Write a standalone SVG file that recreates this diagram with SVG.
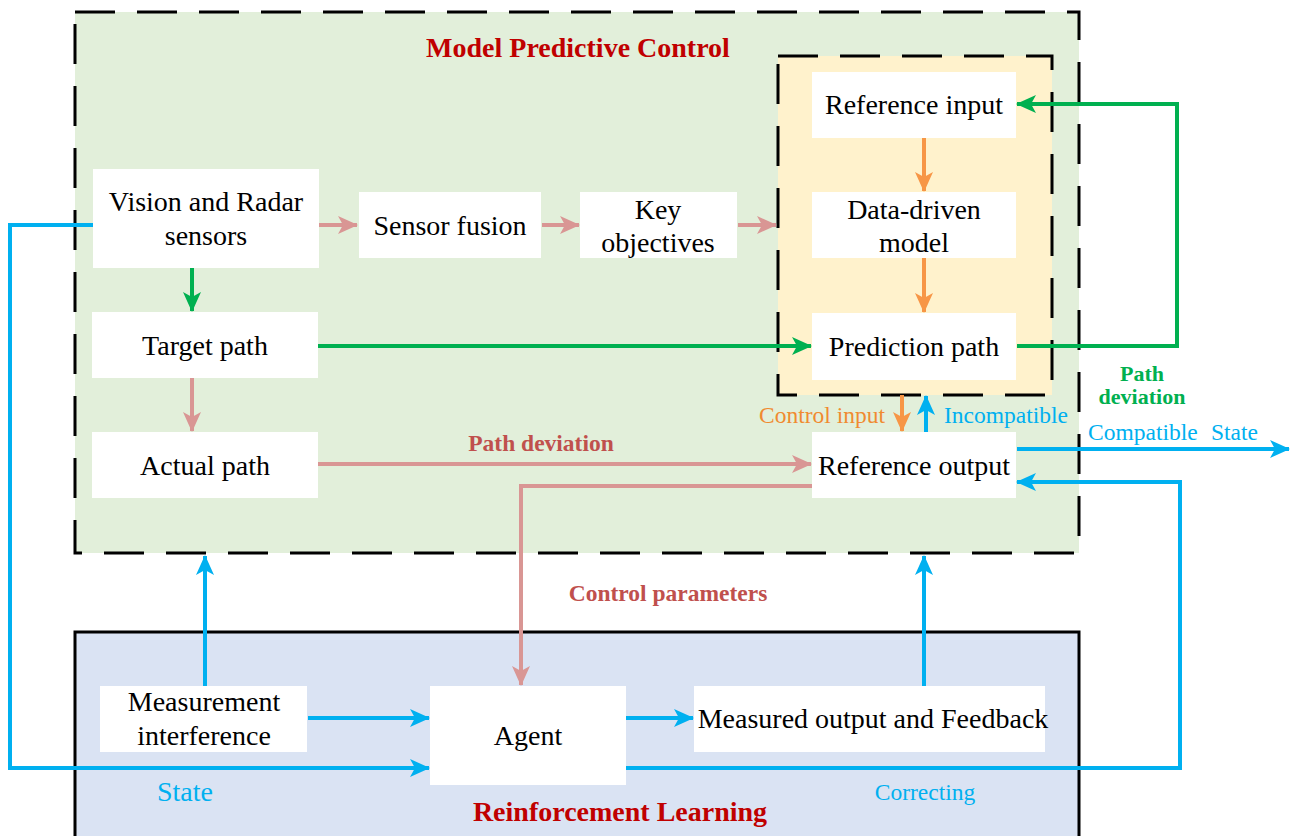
<svg xmlns="http://www.w3.org/2000/svg" width="1290" height="836" viewBox="0 0 1290 836">
  <defs>
    <marker id="ah-pink" viewBox="0 0 20 18" refX="19" refY="9" markerWidth="20" markerHeight="18" markerUnits="userSpaceOnUse" orient="auto"><path d="M0,0 L20,9 L0,18 L5,9 Z" fill="#D99694"/></marker>
    <marker id="ah-green" viewBox="0 0 20 18" refX="19" refY="9" markerWidth="20" markerHeight="18" markerUnits="userSpaceOnUse" orient="auto"><path d="M0,0 L20,9 L0,18 L5,9 Z" fill="#00B050"/></marker>
    <marker id="ah-orange" viewBox="0 0 20 18" refX="19" refY="9" markerWidth="20" markerHeight="18" markerUnits="userSpaceOnUse" orient="auto"><path d="M0,0 L20,9 L0,18 L5,9 Z" fill="#F79646"/></marker>
    <marker id="ah-blue" viewBox="0 0 20 18" refX="19" refY="9" markerWidth="20" markerHeight="18" markerUnits="userSpaceOnUse" orient="auto"><path d="M0,0 L20,9 L0,18 L5,9 Z" fill="#00B0F0"/></marker>
  </defs>
  <style>
    .node { fill: #FFFFFF; }
    .nt { font-family: "Liberation Serif", "Times New Roman", serif; font-size: 28px; fill: #000; text-anchor: middle; }
    .title { font-family: "Liberation Serif", "Times New Roman", serif; font-size: 28px; font-weight: bold; fill: #C00000; text-anchor: middle; }
    .lbl { font-family: "Liberation Serif", "Times New Roman", serif; font-size: 23.5px; }
    .big { font-size: 28px; }
    .small { font-size: 22px; }
    .bold { font-weight: bold; }
    .c { fill: none; stroke-width: 4; stroke-linejoin: miter; }
    .pink { stroke: #D99694; }
    .green { stroke: #00B050; }
    .orange { stroke: #F79646; }
    .blue { stroke: #00B0F0; }
  </style>

  <rect width="1290" height="836" fill="#FFFFFF"/>

  <!-- Model Predictive Control region -->
  <g id="mpc">
    <rect x="75" y="12" width="1004" height="541" fill="#E2EFDA" stroke="#000" stroke-width="3" stroke-dasharray="40,22"/>
    <text class="title" x="578" y="57">Model Predictive Control</text>
  </g>
  <!-- Prediction model sub-region -->
  <g id="predictor">
    <rect x="778" y="56" width="274" height="339" fill="#FFF2CC" stroke="#000" stroke-width="3" stroke-dasharray="40,22"/>
  </g>

  <!-- Reinforcement Learning region -->
  <g id="rl">
    <rect x="75" y="632" width="1004" height="220" fill="#DAE3F3" stroke="#000" stroke-width="3"/>
    <text class="title" x="620" y="821">Reinforcement Learning</text>
  </g>

  <!-- Connectors -->
  <g id="connectors">
    <!-- sensor chain -->
    <line class="c pink" x1="319" y1="225" x2="357" y2="225" marker-end="url(#ah-pink)"/>
    <line class="c pink" x1="542" y1="225" x2="579" y2="225" marker-end="url(#ah-pink)"/>
    <line class="c pink" x1="738" y1="225" x2="776" y2="225" marker-end="url(#ah-pink)"/>
    <line class="c green" x1="192" y1="268" x2="192" y2="311" marker-end="url(#ah-green)"/>
    <line class="c pink" x1="192" y1="378" x2="192" y2="431" marker-end="url(#ah-pink)"/>
    <line class="c green" x1="318" y1="346" x2="811" y2="346" marker-end="url(#ah-green)"/>
    <!-- model chain -->
    <line class="c orange" x1="924" y1="138" x2="924" y2="191" marker-end="url(#ah-orange)"/>
    <line class="c orange" x1="924" y1="258" x2="924" y2="312" marker-end="url(#ah-orange)"/>
    <!-- path deviation feedback -->
    <polyline class="c green" points="1017,346 1177,346 1177,104 1017,104" marker-end="url(#ah-green)"/>
    <!-- control input / incompatible -->
    <line class="c orange" x1="902" y1="395" x2="902" y2="431" marker-end="url(#ah-orange)"/>
    <line class="c blue" x1="926" y1="432" x2="926" y2="396" marker-end="url(#ah-blue)"/>
    <!-- compatible state out -->
    <line class="c blue" x1="1017" y1="449" x2="1289" y2="449" marker-end="url(#ah-blue)"/>
    <!-- actual path deviation -->
    <line class="c pink" x1="318" y1="464" x2="811" y2="464" marker-end="url(#ah-pink)"/>
    <!-- control parameters -->
    <polyline class="c pink" points="812,486 521,486 521,685" marker-end="url(#ah-pink)"/>
    <!-- RL links -->
    <line class="c blue" x1="205" y1="686" x2="205" y2="556" marker-end="url(#ah-blue)"/>
    <line class="c blue" x1="308" y1="718" x2="429" y2="718" marker-end="url(#ah-blue)"/>
    <line class="c blue" x1="626" y1="718" x2="693" y2="718" marker-end="url(#ah-blue)"/>
    <line class="c blue" x1="924" y1="686" x2="924" y2="556" marker-end="url(#ah-blue)"/>
    <!-- state loop -->
    <polyline class="c blue" points="93,225 10,225 10,768 429,768" marker-end="url(#ah-blue)"/>
    <!-- correcting loop -->
    <polyline class="c blue" points="626,768 1180,768 1180,482 1017,482" marker-end="url(#ah-blue)"/>

    <!-- connector labels -->
    <text class="lbl small bold" x="1142" y="381" fill="#00B050" text-anchor="middle">Path</text>
    <text class="lbl small bold" x="1142" y="404" fill="#00B050" text-anchor="middle">deviation</text>
    <text class="lbl" x="885" y="423" fill="#F08A30" text-anchor="end">Control input</text>
    <text class="lbl" x="944" y="423" fill="#00B0F0">Incompatible</text>
    <text class="lbl" x="1088" y="440" fill="#00B0F0">Compatible</text>
    <text class="lbl" x="1211" y="440" fill="#00B0F0">State</text>
    <text class="lbl bold" x="541" y="451" fill="#C0504D" text-anchor="middle">Path deviation</text>
    <text class="lbl bold" x="668" y="601" fill="#C0504D" text-anchor="middle">Control parameters</text>
    <text class="lbl big" x="185" y="801" fill="#00B0F0" text-anchor="middle">State</text>
    <text class="lbl" x="925" y="800" fill="#00B0F0" text-anchor="middle">Correcting</text>
  </g>

  <!-- Nodes -->
  <g id="vision">
    <rect class="node" x="93" y="169" width="226" height="99"/>
    <text class="nt" x="206" y="211">Vision and Radar</text>
    <text class="nt" x="206" y="245">sensors</text>
  </g>
  <g id="sensor-fusion">
    <rect class="node" x="359" y="192" width="182" height="66"/>
    <text class="nt" x="450" y="235">Sensor fusion</text>
  </g>
  <g id="key-objectives">
    <rect class="node" x="580" y="192" width="157" height="66"/>
    <text class="nt" x="658" y="219">Key</text>
    <text class="nt" x="658" y="252">objectives</text>
  </g>
  <g id="reference-input">
    <rect class="node" x="812" y="72" width="204" height="66"/>
    <text class="nt" x="914" y="114">Reference input</text>
  </g>
  <g id="data-driven-model">
    <rect class="node" x="812" y="192" width="204" height="66"/>
    <text class="nt" x="914" y="219">Data-driven</text>
    <text class="nt" x="914" y="252">model</text>
  </g>
  <g id="prediction-path">
    <rect class="node" x="812" y="313" width="204" height="67"/>
    <text class="nt" x="914" y="356">Prediction path</text>
  </g>
  <g id="target-path">
    <rect class="node" x="92" y="312" width="226" height="66"/>
    <text class="nt" x="205" y="355">Target path</text>
  </g>
  <g id="actual-path">
    <rect class="node" x="92" y="432" width="226" height="66"/>
    <text class="nt" x="205" y="475">Actual path</text>
  </g>
  <g id="reference-output">
    <rect class="node" x="812" y="432" width="204" height="66"/>
    <text class="nt" x="914" y="475">Reference output</text>
  </g>
  <g id="measurement-interference">
    <rect class="node" x="100" y="686" width="207" height="66"/>
    <text class="nt" x="204" y="711">Measurement</text>
    <text class="nt" x="204" y="745">interference</text>
  </g>
  <g id="agent">
    <rect class="node" x="430" y="686" width="196" height="99"/>
    <text class="nt" x="528" y="745">Agent</text>
  </g>
  <g id="measured-output">
    <rect class="node" x="694" y="686" width="351" height="66"/>
    <text class="nt" x="873" y="728">Measured output and Feedback</text>
  </g>
</svg>
